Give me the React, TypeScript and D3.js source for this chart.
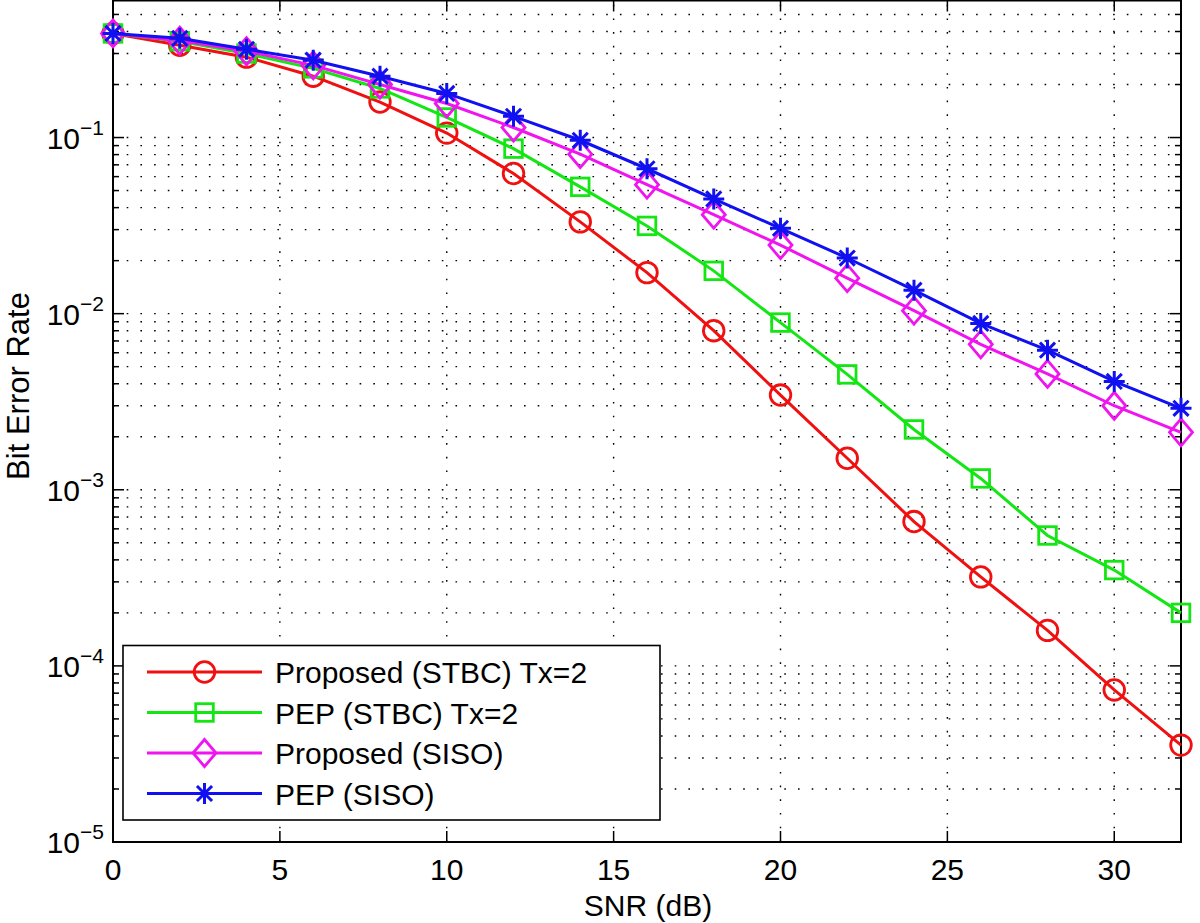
import React from 'react';
import * as d3 from 'd3';

const snr = [0, 2, 4, 6, 8, 10, 12, 14, 16, 18, 20, 22, 24, 26, 28, 30, 32];
const proposedSTBC = [0.39, 0.334, 0.286, 0.223, 0.159, 0.106, 0.0625, 0.0332, 0.0171, 0.0080, 0.00345, 0.00151, 0.00066, 0.00032, 0.000159, 0.000073, 0.0000355];
const pepSTBC = [0.39, 0.352, 0.30, 0.247, 0.19, 0.13, 0.0865, 0.0525, 0.0315, 0.0175, 0.0089, 0.00452, 0.00220, 0.00116, 0.00055, 0.00035, 0.000200];
const proposedSISO = [0.39, 0.355, 0.309, 0.257, 0.2, 0.156, 0.114, 0.0805, 0.054, 0.0365, 0.0245, 0.0159, 0.0104, 0.0067, 0.00455, 0.00300, 0.00212];
const pepSISO = [0.39, 0.366, 0.317, 0.275, 0.223, 0.178, 0.132, 0.0965, 0.0665, 0.0448, 0.0305, 0.0207, 0.0136, 0.0088, 0.0062, 0.00412, 0.00290];

const seriesNames = ['Proposed (STBC) Tx=2', 'PEP (STBC) Tx=2', 'Proposed (SISO)', 'PEP (SISO)'];
const seriesColors = ['#f01010', '#14e614', '#f014f0', '#1010f0'];
const seriesMarkers = ['circle', 'square', 'diamond', 'star'];
const seriesData = [proposedSTBC, pepSTBC, proposedSISO, pepSISO];

const xTicks = [0, 5, 10, 15, 20, 25, 30];
const yDecades = [-5, -4, -3, -2, -1];

const FONT = '"Liberation Sans", Arial, Helvetica, sans-serif';

function Marker({ type, x, y, color }: { type: string; x: number; y: number; color: string }) {
  const sw = 2.8;
  if (type === 'circle') return <circle cx={x} cy={y} r={10.3} fill="none" stroke={color} strokeWidth={sw} />;
  if (type === 'square') return <rect x={x - 8.8} y={y - 8.8} width={17.6} height={17.6} fill="none" stroke={color} strokeWidth={sw} />;
  if (type === 'diamond') return <path d={`M${x},${y - 13.5}L${x + 11.5},${y}L${x},${y + 13.5}L${x - 11.5},${y}Z`} fill="none" stroke={color} strokeWidth={sw} />;
  const r = 10.5;
  const d = r * 0.72;
  return (
    <path
      d={`M${x - r},${y}L${x + r},${y}M${x},${y - r}L${x},${y + r}M${x - d},${y - d}L${x + d},${y + d}M${x - d},${y + d}L${x + d},${y - d}`}
      stroke={color}
      strokeWidth={3}
      fill="none"
    />
  );
}

export default function App() {
  const left = 113, right = 1181, top = 0.5, bottom = 842;
  const x = d3.scaleLinear().domain([0, 32]).range([left, right]);
  const y = d3.scaleLog().domain([1e-5, 0.6]).range([bottom, top]);

  const minorVals: number[] = [];
  for (const e of yDecades) {
    for (let m = 2; m <= 9; m++) {
      const v = m * Math.pow(10, e);
      if (v < 0.6) minorVals.push(v);
    }
  }
  const majorVals = yDecades.map((e) => Math.pow(10, e));
  const gridY = [...majorVals.filter((v) => v > 1e-5), ...minorVals];

  const line = d3.line<number>().x((_, i) => x(snr[i])).y((v) => y(v));

  const dotDash = '1.6 12.1';

  return (
    <svg width={1200} height={923} style={{ position: 'absolute', left: 0, top: 0, background: '#fff' }} fontFamily={FONT}>
      <rect x={0} y={0} width={1200} height={923} fill="#fff" />
      {/* grid */}
      <g stroke="#000" strokeWidth={1.4} strokeDasharray={dotDash}>
        {gridY.map((v, i) => (
          <line key={'gy' + i} x1={left} x2={right} y1={y(v)} y2={y(v)} />
        ))}
        {xTicks.filter((t) => t > 0).map((t) => (
          <line key={'gx' + t} x1={x(t)} x2={x(t)} y1={bottom} y2={top} />
        ))}
      </g>
      {/* ticks */}
      <g stroke="#000" strokeWidth={1.5}>
        {majorVals.map((v, i) => (
          <g key={'my' + i}>
            <line x1={left} x2={left + 11} y1={y(v)} y2={y(v)} />
            <line x1={right} x2={right - 11} y1={y(v)} y2={y(v)} />
          </g>
        ))}
        {minorVals.map((v, i) => (
          <g key={'mn' + i}>
            <line x1={left} x2={left + 6} y1={y(v)} y2={y(v)} />
            <line x1={right} x2={right - 6} y1={y(v)} y2={y(v)} />
          </g>
        ))}
        {xTicks.map((t) => (
          <g key={'xt' + t}>
            <line x1={x(t)} x2={x(t)} y1={bottom} y2={bottom - 11} />
            <line x1={x(t)} x2={x(t)} y1={top} y2={top + 11} />
          </g>
        ))}
      </g>
      {/* axes box */}
      <rect x={left} y={top} width={right - left} height={bottom - top} fill="none" stroke="#000" strokeWidth={2} />
      {/* tick labels */}
      <g fill="#000">
        {xTicks.map((t) => (
          <text key={'xl' + t} x={x(t)} y={880} textAnchor="middle" fontSize={30}>
            {t}
          </text>
        ))}
        {yDecades.map((e) => (
          <text key={'yl' + e} x={104} y={y(Math.pow(10, e)) + 11} textAnchor="end" fontSize={30}>
            10
            <tspan dy={-14} fontSize={21}>
              {'\u2212' + Math.abs(e)}
            </tspan>
          </text>
        ))}
        <text x={648} y={916} textAnchor="middle" fontSize={30}>
          SNR (dB)
        </text>
        <text transform={`translate(29,386) rotate(-90)`} textAnchor="middle" fontSize={31}>
          Bit Error Rate
        </text>
      </g>
      {/* series */}
      {seriesData.map((data, si) => (
        <g key={'s' + si}>
          <path d={line(data) || ''} fill="none" stroke={seriesColors[si]} strokeWidth={3} />
          {data.map((v, i) => (
            <Marker key={i} type={seriesMarkers[si]} x={x(snr[i])} y={y(v)} color={seriesColors[si]} />
          ))}
        </g>
      ))}
      {/* legend */}
      <g>
        <rect x={123} y={645.5} width={537} height={174.5} fill="#fff" stroke="#000" strokeWidth={1.6} />
        {seriesNames.map((name, i) => {
          const ry = 672 + i * 40.5;
          return (
            <g key={'lg' + i}>
              <line x1={147} x2={262} y1={ry} y2={ry} stroke={seriesColors[i]} strokeWidth={3} />
              <Marker type={seriesMarkers[i]} x={204.5} y={ry} color={seriesColors[i]} />
              <text x={275} y={ry + 11} fontSize={30} fill="#000">
                {name}
              </text>
            </g>
          );
        })}
      </g>
    </svg>
  );
}
